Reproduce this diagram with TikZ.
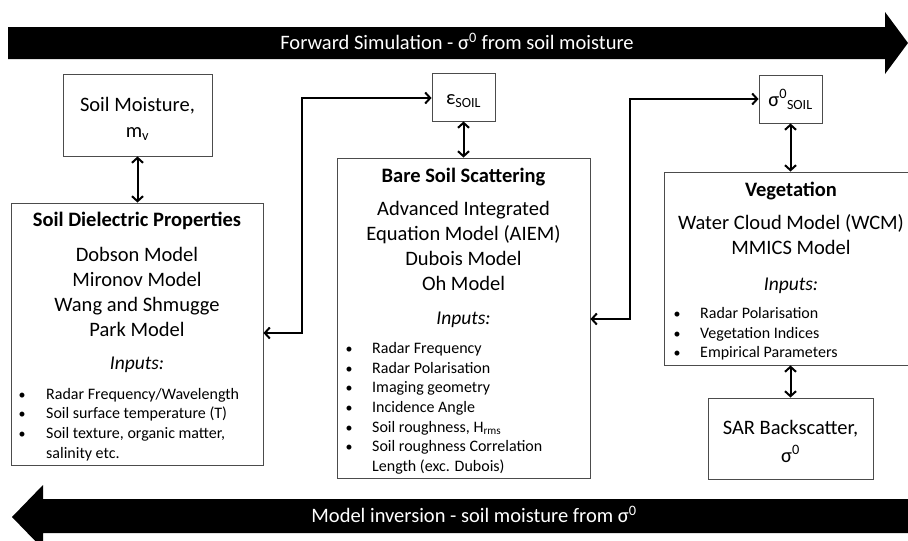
\documentclass[tikz,border=0pt]{standalone}
\usepackage{fontspec}
\setmainfont{Carlito}
\usetikzlibrary{arrows.meta}
\begin{document}
\begin{tikzpicture}[x=1pt,y=-1pt,
  box/.style={draw=black!70,line width=0.9pt,fill=white},
  conn/.style={line width=2pt,{Straight Barb[length=5pt,width=11pt]}-{Straight Barb[length=5pt,width=11pt]}},
  txt/.style={inner sep=0pt,anchor=mid,yshift=-5pt},
  ttl/.style={txt,font=\fontsize{20.5}{24}\selectfont\bfseries},
  mdl/.style={txt,font=\fontsize{20.5}{24}\selectfont},
  inp/.style={txt,font=\fontsize{19.5}{23}\selectfont\itshape},
  itm/.style={inner sep=0pt,anchor=mid west,yshift=-4pt,font=\fontsize{16}{19}\selectfont},
  bul/.style={inner sep=0pt,anchor=mid,yshift=-4pt,font=\fontsize{14}{16}\selectfont},
  bar/.style={inner sep=0pt,anchor=mid,yshift=-4.5pt,text=white,font=\fontsize{20.5}{24}\selectfont}]
\useasboundingbox (0,0) rectangle (908,541);
% big arrows
\fill[black] (8,27) -- (885,27) -- (885,12) -- (908,43) -- (885,74) -- (885,59) -- (8,59) -- cycle;
\node[bar] (fwd) at (457,43) {Forward Simulation - σ\textsuperscript{0} from soil moisture};
\fill[black] (908,499) -- (43,499) -- (43,485) -- (12,517) -- (43,549) -- (43,533) -- (908,533) -- cycle;
\node[bar] (inv) at (474,516) {Model inversion - soil moisture from σ\textsuperscript{0}};
% boxes
\node[box,minimum width=149pt,minimum height=82pt,inner sep=0pt] (smb) at (137.5,115) {};
\node[mdl] (sm1) at (137.5,104) {Soil Moisture,};
\node[mdl] (sm2) at (137.5,130) {m\textsubscript{v}};

\node[box,minimum width=252pt,minimum height=262pt,inner sep=0pt] (sdp) at (137,334) {};
\node[ttl] (sdpt) at (137,219) {Soil Dielectric Properties};
\node[mdl] (d1) at (137,254) {Dobson Model};
\node[mdl] (d2) at (137,279) {Mironov Model};
\node[mdl] (d3) at (137,304) {Wang and Shmugge};
\node[mdl] (d4) at (137,329) {Park Model};
\node[inp] (d5) at (137,362) {Inputs:};
\node[bul] at (22,393) {•}; \node[itm] (d6) at (46,393) {Radar Frequency/Wavelength};
\node[bul] at (22,412) {•}; \node[itm] (d7) at (46,412) {Soil surface temperature (T)};
\node[bul] at (22,432) {•}; \node[itm] (d8) at (46,432) {Soil texture, organic matter,};
\node[itm] (d9) at (46,452) {salinity etc.};

\node[box,minimum width=63pt,minimum height=48pt,inner sep=0pt] (eps) at (463.5,97) {};
\node[txt,font=\fontsize{20.5}{24}\selectfont] (epst) at (463.5,97) {ε\textsubscript{\fontsize{14}{16}\selectfont SOIL}};

\node[box,minimum width=253pt,minimum height=320pt,inner sep=0pt] (bss) at (463.5,318) {};
\node[ttl] (b0) at (463.5,175) {Bare Soil Scattering};
\node[mdl] (b1) at (463.5,208) {Advanced Integrated};
\node[mdl] (b2) at (463.5,233) {Equation Model (AIEM)};
\node[mdl] (b3) at (463.5,258) {Dubois Model};
\node[mdl] (b4) at (463.5,283) {Oh Model};
\node[inp] (b5) at (463.5,317) {Inputs:};
\node[bul] at (349,347) {•}; \node[itm] (b6) at (372,347) {Radar Frequency};
\node[bul] at (349,367) {•}; \node[itm] (b7) at (372,367) {Radar Polarisation};
\node[bul] at (349,386) {•}; \node[itm] (b8) at (372,386) {Imaging geometry};
\node[bul] at (349,406) {•}; \node[itm] (b9) at (372,406) {Incidence Angle};
\node[bul] at (349,426) {•}; \node[itm] (b10) at (372,426) {Soil roughness, H\textsubscript{rms}};
\node[bul] at (349,445) {•}; \node[itm] (b11) at (372,445) {Soil roughness Correlation};
\node[itm] (b12) at (372,465) {Length (exc. Dubois)};

\node[box,minimum width=63pt,minimum height=48pt,inner sep=0pt] (sig) at (790.5,99) {};
\node[txt,font=\fontsize{20.5}{24}\selectfont] (sigt) at (790.5,99) {σ\textsuperscript{0}\textsubscript{\fontsize{14}{16}\selectfont SOIL}};

\node[box,minimum width=248pt,minimum height=193pt,inner sep=0pt] (veg) at (788,268.5) {};
\node[ttl] (v0) at (791,189) {Vegetation};
\node[mdl] (v1) at (791,222) {Water Cloud Model (WCM)};
\node[mdl] (v2) at (791,247) {MMICS Model};
\node[inp] (v3) at (791,283) {Inputs:};
\node[bul] at (677,312) {•}; \node[itm] (v4) at (700,312) {Radar Polarisation};
\node[bul] at (677,332) {•}; \node[itm] (v5) at (700,332) {Vegetation Indices};
\node[bul] at (677,351) {•}; \node[itm] (v6) at (700,351) {Empirical Parameters};

\node[box,minimum width=165pt,minimum height=81pt,inner sep=0pt] (sar) at (790.5,438.5) {};
\node[mdl] (s1) at (790.5,427) {SAR Backscatter,};
\node[mdl] (s2) at (790.5,455) {σ\textsuperscript{0}};

% connectors
\draw[conn] (smb.south) -- (sdp.north -| smb.south);
\draw[conn] (eps.south) -- (bss.north -| eps.south);
\draw[conn] (sig.south) -- (veg.north -| sig.south);
\draw[conn] (veg.south -| sig.south) -- (sar.north);
\draw[conn] (sdp.east |- 0,333) -- (302,333) -- (302,98) -- (eps.west |- 0,98);
\draw[conn] (bss.east |- 0,319) -- (630,319) -- (630,99) -- (sig.west);
\end{tikzpicture}
\end{document}
